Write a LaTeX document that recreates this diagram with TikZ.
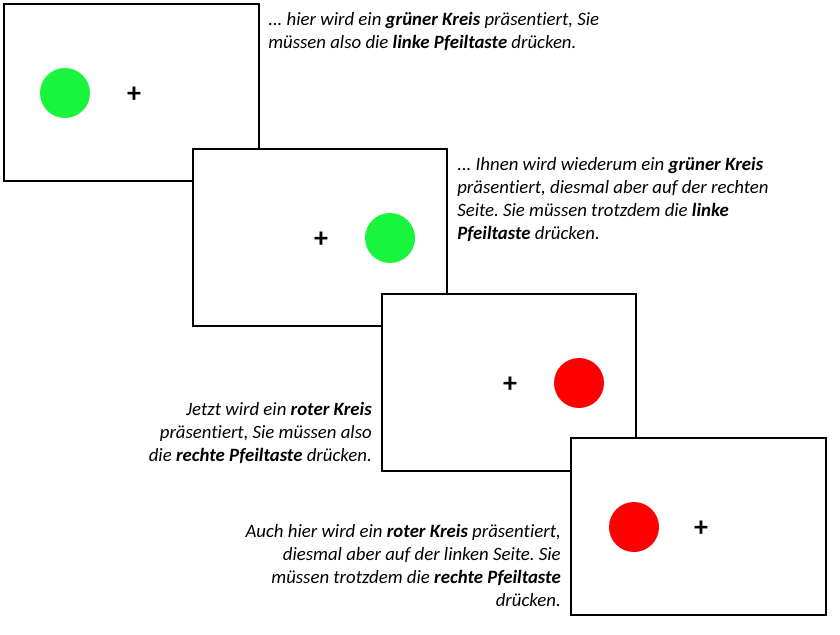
\documentclass[tikz,border=0pt]{standalone}
\usepackage{fontspec}
\setmainfont{Carlito}[Ligatures=NoCommon]
\frenchspacing
\definecolor{stimgreen}{HTML}{19F53C}
\definecolor{stimred}{HTML}{FF0000}
\begin{document}
\begin{tikzpicture}[x=0.75pt,y=-0.75pt,
  screen/.style={draw=black,line width=1pt,fill=white},
  dot/.style={circle,minimum size=37.5pt,inner sep=0pt},
  fix/.style={font=\bfseries\fontsize{21}{21}\selectfont,inner sep=0pt,yshift=-1.5pt},
  caption/.style={font=\itshape\fontsize{14.1}{17.3}\selectfont,inner sep=0pt}]
\useasboundingbox[fill=white] (0,0) rectangle (840,635);
% screen 1
\draw[screen] (4,4) rectangle (259,181);
\node[dot,fill=stimgreen] (c1) at (65,93) {};
\node[fix] (p1) at (134,93) {+};
\node[caption,align=left,anchor=north west] (t1) at (268,12)
 {... hier wird ein \textbf{grüner Kreis} präsentiert, Sie\\ müssen also die \textbf{linke Pfeiltaste} drücken.};
% screen 2
\draw[screen] (193,149) rectangle (447,326);
\node[fix] (p2) at (321,238) {+};
\node[dot,fill=stimgreen] (c2) at (390,238) {};
\node[caption,align=left,anchor=north west] (t2) at (457,157)
 {... Ihnen wird wiederum ein \textbf{grüner Kreis}\\ präsentiert, diesmal aber auf der rechten\\ Seite. Sie müssen trotzdem die \textbf{linke}\\ \textbf{Pfeiltaste} drücken.};
% screen 3
\draw[screen] (382,294) rectangle (636,471);
\node[fix] (p3) at (510,383) {+};
\node[dot,fill=stimred] (c3) at (579,383) {};
\node[caption,align=right,anchor=north east] (t3) at (372,402)
 {Jetzt wird ein \textbf{roter Kreis}\\ präsentiert, Sie müssen also\\ die \textbf{rechte Pfeiltaste} drücken.};
% screen 4
\draw[screen] (571,438) rectangle (826,615);
\node[dot,fill=stimred] (c4) at (634,527) {};
\node[fix] (p4) at (701,527) {+};
\node[caption,align=right,anchor=north east] (t4) at (561,524)
 {Auch hier wird ein \textbf{roter Kreis} präsentiert,\\ diesmal aber auf der linken Seite. Sie\\ müssen trotzdem die \textbf{rechte Pfeiltaste}\\ drücken.};
\end{tikzpicture}
\end{document}
